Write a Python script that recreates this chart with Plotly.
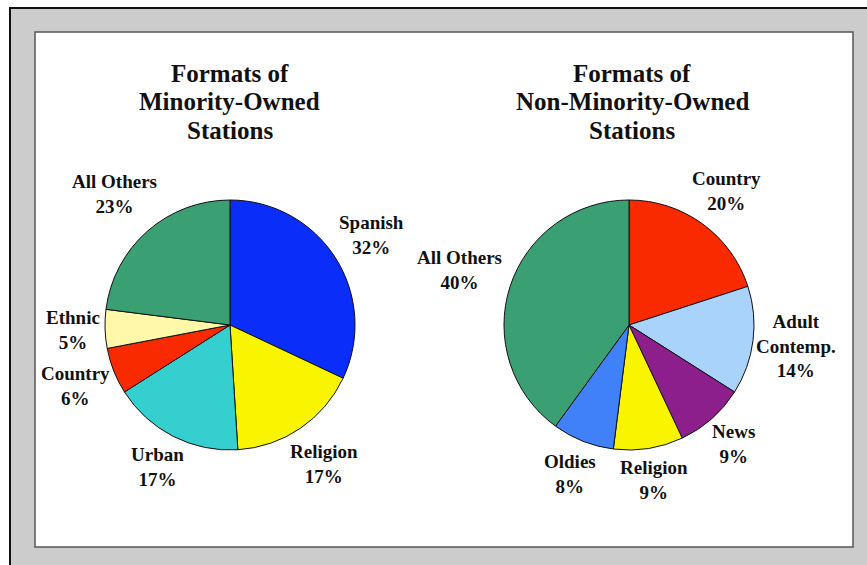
import math
import plotly.graph_objects as go

W, H = 867, 565

minority_labels = ["Spanish", "Religion", "Urban", "Country", "Ethnic", "All Others"]
minority_values = [32, 17, 17, 6, 5, 23]
minority_colors = ["#0a2dfa", "#f9f500", "#35cfd0", "#fa2a00", "#fff8a8", "#3aa074"]

nonminority_labels = ["Country", "Adult<br>Contemp.", "News", "Religion", "Oldies", "All Others"]
nonminority_values = [20, 14, 9, 9, 8, 40]
nonminority_colors = ["#fa2a00", "#a9d3fb", "#8c1f8c", "#f9f500", "#4080f8", "#3aa074"]

titles = [["Formats of", "Minority-Owned", "Stations"],
          ["Formats of", "Non-Minority-Owned", "Stations"]]

FONT = "Liberation Serif"
LABEL_SIZE = 19
INK = "#111111"

def px(x):
    return x / W

def py(y):
    return 1 - y / H

fig = go.Figure()
annotations = []

def add_pie(labels, values, colors, cx, cy, r):
    fig.add_trace(go.Pie(
        labels=labels, values=values, sort=False, direction="clockwise", rotation=0,
        marker=dict(colors=colors, line=dict(color=INK, width=1)),
        textinfo="none",
        hovertemplate="%{label}: %{value}%<extra></extra>",
        domain=dict(x=[px(cx - r), px(cx + r)], y=[py(cy + r), py(cy - r)]),
        showlegend=False,
    ))
    # labels placed just outside each slice's mid-angle, derived from the values
    total = sum(values)
    cum = 0
    for lab, v in zip(labels, values):
        mid = (cum + v / 2) / total * 2 * math.pi
        cum += v
        sx, sy = math.sin(mid), -math.cos(mid)  # screen direction (y down)
        lines = lab.split("<br>") + [f"{v}%"]
        w = max(len(s) for s in lines) * 8.5
        h = len(lines) * 21
        d = r + 6 + abs(sx) * w / 2 + abs(sy) * h / 2
        annotations.append(dict(
            text="<b>" + lab + "<br>" + f"{v}%" + "</b>",
            x=px(cx + sx * d), y=py(cy + sy * d), xref="paper", yref="paper",
            xanchor="center", yanchor="middle", showarrow=False, align="center",
            font=dict(family=FONT, size=LABEL_SIZE, color=INK),
        ))

add_pie(minority_labels, minority_values, minority_colors, 230, 325, 125)
add_pie(nonminority_labels, nonminority_values, nonminority_colors, 629, 325, 125)

shapes = [
    dict(type="rect", xref="paper", yref="paper", x0=px(10), x1=1.05, y0=-0.05, y1=py(8),
         fillcolor="#cccccc", line=dict(color=INK, width=2), layer="below"),
    dict(type="rect", xref="paper", yref="paper", x0=px(35), x1=px(853), y0=py(547), y1=py(32),
         fillcolor="#ffffff", line=dict(color="#555555", width=1.5), layer="below"),
]

for tx, tlines in zip([230, 632], titles):
    for i, line in enumerate(tlines):
        annotations.append(dict(
            text="<b>" + line + "</b>", x=px(tx), y=py(73 + 28.5 * i), xref="paper", yref="paper",
            xanchor="center", yanchor="middle", showarrow=False,
            font=dict(family=FONT, size=25, color=INK),
        ))

fig.update_layout(
    width=W, height=H, margin=dict(l=0, r=0, t=0, b=0),
    paper_bgcolor="#ffffff", plot_bgcolor="#ffffff",
    shapes=shapes, annotations=annotations,
)

fig.write_html("out.html", config={"displayModeBar": False},
               post_script="document.body.style.margin='0';document.body.style.padding='0';")
